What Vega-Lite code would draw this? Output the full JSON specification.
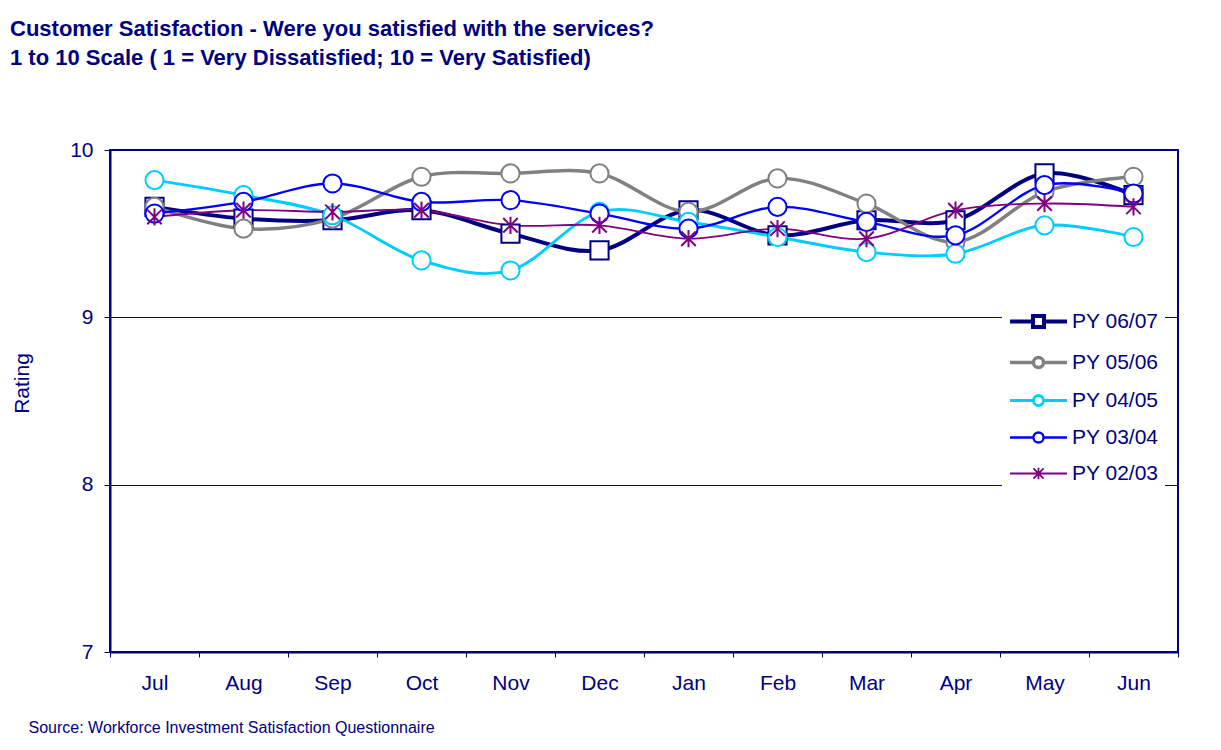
{
  "$schema": "https://vega.github.io/schema/vega-lite/v6.json",
  "autosize": {"type": "none"},
  "padding": {"left": 110, "top": 150, "right": 43, "bottom": 98},
  "width": 1068,
  "height": 502,
  "background": "white",
  "title": {
    "text": ["Customer Satisfaction - Were you satisfied with the services?", "1 to 10 Scale ( 1 = Very Dissatisfied; 10 = Very Satisfied)"],
    "anchor": "start",
    "frame": "group",
    "orient": "top",
    "offset": 0,
    "dx": -100,
    "dy": -69,
    "font": "Liberation Sans",
    "fontSize": 22,
    "fontWeight": "bold",
    "color": "#000080",
    "lineHeight": 29
  },
  "config": {
    "view": {"stroke": "#000080", "strokeWidth": 2},
    "font": "Liberation Sans"
  },
  "data": {
    "values": [
      {"month": "Jul", "series": "PY 06/07", "rating": 9.66},
      {"month": "Aug", "series": "PY 06/07", "rating": 9.59},
      {"month": "Sep", "series": "PY 06/07", "rating": 9.58},
      {"month": "Oct", "series": "PY 06/07", "rating": 9.64},
      {"month": "Nov", "series": "PY 06/07", "rating": 9.50},
      {"month": "Dec", "series": "PY 06/07", "rating": 9.40},
      {"month": "Jan", "series": "PY 06/07", "rating": 9.64},
      {"month": "Feb", "series": "PY 06/07", "rating": 9.49},
      {"month": "Mar", "series": "PY 06/07", "rating": 9.58},
      {"month": "Apr", "series": "PY 06/07", "rating": 9.58},
      {"month": "May", "series": "PY 06/07", "rating": 9.86},
      {"month": "Jun", "series": "PY 06/07", "rating": 9.73},
      {"month": "Jul", "series": "PY 05/06", "rating": 9.66},
      {"month": "Aug", "series": "PY 05/06", "rating": 9.53},
      {"month": "Sep", "series": "PY 05/06", "rating": 9.59},
      {"month": "Oct", "series": "PY 05/06", "rating": 9.84},
      {"month": "Nov", "series": "PY 05/06", "rating": 9.86},
      {"month": "Dec", "series": "PY 05/06", "rating": 9.86},
      {"month": "Jan", "series": "PY 05/06", "rating": 9.63},
      {"month": "Feb", "series": "PY 05/06", "rating": 9.83},
      {"month": "Mar", "series": "PY 05/06", "rating": 9.68},
      {"month": "Apr", "series": "PY 05/06", "rating": 9.45},
      {"month": "May", "series": "PY 05/06", "rating": 9.75},
      {"month": "Jun", "series": "PY 05/06", "rating": 9.84},
      {"month": "Jul", "series": "PY 04/05", "rating": 9.82},
      {"month": "Aug", "series": "PY 04/05", "rating": 9.73},
      {"month": "Sep", "series": "PY 04/05", "rating": 9.61},
      {"month": "Oct", "series": "PY 04/05", "rating": 9.34},
      {"month": "Nov", "series": "PY 04/05", "rating": 9.28},
      {"month": "Dec", "series": "PY 04/05", "rating": 9.63},
      {"month": "Jan", "series": "PY 04/05", "rating": 9.57},
      {"month": "Feb", "series": "PY 04/05", "rating": 9.48},
      {"month": "Mar", "series": "PY 04/05", "rating": 9.39},
      {"month": "Apr", "series": "PY 04/05", "rating": 9.38},
      {"month": "May", "series": "PY 04/05", "rating": 9.55},
      {"month": "Jun", "series": "PY 04/05", "rating": 9.48},
      {"month": "Jul", "series": "PY 03/04", "rating": 9.62},
      {"month": "Aug", "series": "PY 03/04", "rating": 9.69},
      {"month": "Sep", "series": "PY 03/04", "rating": 9.80},
      {"month": "Oct", "series": "PY 03/04", "rating": 9.69},
      {"month": "Nov", "series": "PY 03/04", "rating": 9.70},
      {"month": "Dec", "series": "PY 03/04", "rating": 9.62},
      {"month": "Jan", "series": "PY 03/04", "rating": 9.53},
      {"month": "Feb", "series": "PY 03/04", "rating": 9.66},
      {"month": "Mar", "series": "PY 03/04", "rating": 9.57},
      {"month": "Apr", "series": "PY 03/04", "rating": 9.49},
      {"month": "May", "series": "PY 03/04", "rating": 9.79},
      {"month": "Jun", "series": "PY 03/04", "rating": 9.74},
      {"month": "Jul", "series": "PY 02/03", "rating": 9.60},
      {"month": "Aug", "series": "PY 02/03", "rating": 9.64},
      {"month": "Sep", "series": "PY 02/03", "rating": 9.63},
      {"month": "Oct", "series": "PY 02/03", "rating": 9.64},
      {"month": "Nov", "series": "PY 02/03", "rating": 9.55},
      {"month": "Dec", "series": "PY 02/03", "rating": 9.55},
      {"month": "Jan", "series": "PY 02/03", "rating": 9.47},
      {"month": "Feb", "series": "PY 02/03", "rating": 9.53},
      {"month": "Mar", "series": "PY 02/03", "rating": 9.47},
      {"month": "Apr", "series": "PY 02/03", "rating": 9.64},
      {"month": "May", "series": "PY 02/03", "rating": 9.68},
      {"month": "Jun", "series": "PY 02/03", "rating": 9.66}
    ]
  },
  "encoding": {
    "x": {
      "field": "month",
      "type": "ordinal",
      "sort": ["Jul", "Aug", "Sep", "Oct", "Nov", "Dec", "Jan", "Feb", "Mar", "Apr", "May", "Jun"],
      "scale": {"type": "band", "paddingInner": 0, "paddingOuter": 0},
      "axis": {
        "tickBand": "extent",
        "labelAngle": 0,
        "domainColor": "#000080",
        "domainWidth": 2,
        "tickColor": "#000080",
        "tickSize": 5,
        "labelColor": "#000080",
        "labelFont": "Liberation Sans",
        "labelFontSize": 21,
        "labelPadding": 15,
        "grid": false,
        "title": "Source: Workforce Investment Satisfaction Questionnaire",
        "titleAnchor": "start",
        "titleAlign": "left",
        "titleX": -82,
        "titleY": 75,
        "titleBaseline": "middle",
        "titleFont": "Liberation Sans",
        "titleFontSize": 16,
        "titleFontWeight": "normal",
        "titleColor": "#000080"
      }
    },
    "y": {
      "field": "rating",
      "type": "quantitative",
      "scale": {"domain": [7, 10], "nice": false, "zero": false},
      "axis": {
        "values": [7, 8, 9, 10],
        "format": "d",
        "domainColor": "#000080",
        "domainWidth": 2,
        "tickColor": "#000080",
        "tickSize": 6,
        "labelColor": "#000080",
        "labelFont": "Liberation Sans",
        "labelFontSize": 21,
        "labelPadding": 11,
        "grid": true,
        "gridColor": "#000080",
        "gridWidth": 1,
        "title": "Rating",
        "titleX": -88,
        "titleY": 233,
        "titleAlign": "center",
        "titleBaseline": "middle",
        "titleFont": "Liberation Sans",
        "titleFontSize": 21,
        "titleFontWeight": "normal",
        "titleColor": "#000080"
      }
    },
    "color": {
      "field": "series",
      "type": "nominal",
      "sort": ["PY 06/07", "PY 05/06", "PY 04/05", "PY 03/04", "PY 02/03"],
      "scale": {
        "domain": ["PY 06/07", "PY 05/06", "PY 04/05", "PY 03/04", "PY 02/03"],
        "range": ["#000080", "#808080", "#00CCFF", "#0000FF", "#800080"]
      },
      "legend": {
        "title": null,
        "orient": "none",
        "legendX": 892,
        "legendY": 155,
        "padding": 6,
        "fillColor": "white",
        "strokeColor": null,
        "symbolSize": 256,
        "symbolOffset": 20,
        "symbolOpacity": 1,
        "labelOffset": 23,
        "rowPadding": 14,
        "labelFont": "Liberation Sans",
        "labelFontSize": 21,
        "labelColor": "#000080",
        "labelLimit": 300,
        "symbolStrokeWidth": 1.5,
        "encode": {
          "symbols": {
            "update": {
              "shape": {"signal": "datum.value == 'PY 06/07' ? 'M-3.56,0H-0.69M0.69,0H3.56M-0.69,-0.69H0.69V0.69H-0.69Z' : datum.value == 'PY 02/03' ? 'M-3.56,0H3.56M0,-0.72V0.72M-0.64,-0.64L0.64,0.64M-0.64,0.64L0.64,-0.64' : 'M-3.56,0H-0.63M0.63,0H3.56M0.63,0A0.63,0.63 0 1 1 -0.63,0A0.63,0.63 0 1 1 0.63,0Z'"},
              "fill": {"value": "white"}
            }
          }
        }
      }
    }
  },
  "layer": [
    {
      "mark": {"type": "line", "interpolate": "cardinal"},
      "encoding": {
        "strokeWidth": {
          "field": "series",
          "type": "nominal",
          "scale": {
            "domain": ["PY 06/07", "PY 05/06", "PY 04/05", "PY 03/04", "PY 02/03"],
            "range": [4, 1.8, 1.8, 1.8, 1.8]
          },
          "legend": null
        }
      }
    },
    {
      "mark": {"type": "point", "filled": false, "fill": "white", "fillOpacity": 1, "opacity": 1, "strokeWidth": 2, "size": 330},
      "encoding": {
        "shape": {
          "field": "series",
          "type": "nominal",
          "scale": {
            "range": [
              "M0,-0.95V0.95M-0.8,-0.8L0.8,0.8M-0.8,0.8L0.8,-0.8",
              "M1,0A1,1 0 1 1 -1,0A1,1 0 1 1 1,0Z",
              "M1,0A1,1 0 1 1 -1,0A1,1 0 1 1 1,0Z",
              "M1,0A1,1 0 1 1 -1,0A1,1 0 1 1 1,0Z",
              "M-1,-1H1V1H-1Z"
            ]
          },
          "legend": null
        }
      }
    }
  ]
}
